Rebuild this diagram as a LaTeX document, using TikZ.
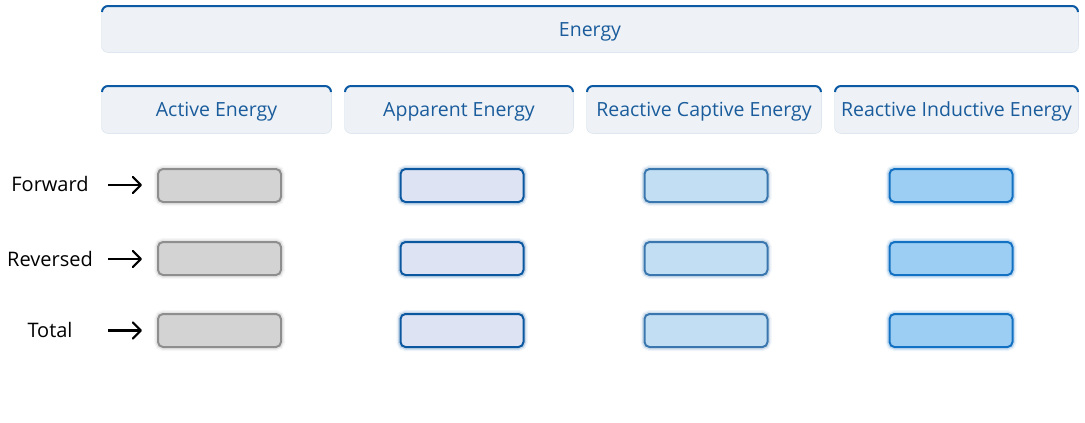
\documentclass[tikz,border=0pt]{standalone}
\usepackage{fontspec}
\setmainfont{Open Sans}
\usetikzlibrary{arrows.meta}
\usetikzlibrary{positioning}

\definecolor{headfill}{HTML}{EEF2F6}
\definecolor{headedge}{HTML}{DCE5EE}
\definecolor{headline}{HTML}{0B5AA3}
\definecolor{headtext}{HTML}{1A5C9C}
\definecolor{grayfill}{HTML}{D3D3D3}
\definecolor{grayline}{HTML}{8E8E8E}
\definecolor{appfill}{HTML}{DDE3F3}
\definecolor{appline}{HTML}{0C58A0}
\definecolor{capfill}{HTML}{C2DEF3}
\definecolor{capline}{HTML}{3A77AE}
\definecolor{indfill}{HTML}{9CCDF2}
\definecolor{indline}{HTML}{1371C3}

\begin{document}
\begin{tikzpicture}[
				x=1pt, y=-1pt,
				node distance=39.5pt,
				line width=2pt,
				arrow/.style={line width=2.2pt, -{Straight Barb[length=8pt, width=16pt, line cap=round, line join=round]}, shorten >=16pt},
				head/.style={fill=headfill, rounded corners=6pt, minimum height=46pt, inner sep=0pt, outer sep=0pt,
					text=headtext, font=\fontsize{19.5}{22}\selectfont, text height=16pt, text depth=2pt,
					preaction={draw=headedge, line width=1.5pt}},
				topline/.style={draw=headline, line width=2pt, rounded corners=6pt},
				rowlabel/.style={font=\fontsize{20}{24}\selectfont},
				cell/.style={draw=#1line, fill=#1fill, rounded corners=5pt, minimum width=123pt, minimum height=33pt, outer sep=0pt,
					preaction={draw=#1line, line width=8pt, draw opacity=0.08},
					preaction={draw=#1line, line width=5pt, draw opacity=0.18}},
			]
				\useasboundingbox (0,0) rectangle (1085,423);
				% headers
				\node (energy) [head, minimum width=976pt] at (590,29) {Energy};
				\node (act) [head, minimum width=229pt, minimum height=47pt] at (216.5,109.5) {Active Energy};
				\node (app) [head, minimum width=228pt, minimum height=47pt, right=14pt of act] {Apparent Energy};
				\node (cap) [head, minimum width=234pt, minimum height=47pt, right=14pt of app] {Reactive Captive Energy};
				\node (ind) [head, minimum width=243pt, minimum height=47pt, right=14pt of cap] {Reactive Inductive Energy};
				\draw[topline] ([yshift=-6pt]energy.north west) |- (energy.north) -| ([yshift=-6pt]energy.north east);
				\draw[topline] ([yshift=-6pt]act.north west) |- (act.north) -| ([yshift=-6pt]act.north east);
				\draw[topline] ([yshift=-6pt]app.north west) |- (app.north) -| ([yshift=-6pt]app.north east);
				\draw[topline] ([yshift=-6pt]cap.north west) |- (cap.north) -| ([yshift=-6pt]cap.north east);
				\draw[topline] ([yshift=-6pt]ind.north west) |- (ind.north) -| ([yshift=-6pt]ind.north east);
				
				% cells
				\node (fwdA) [cell=gray] at (219.5,185.5) {};
				\node (revA) [cell=gray, below=40pt of fwdA] {};
				\node (totA) [cell=gray, below=39pt of revA] {};
				\node (fwdB) [cell=app] at (462,185.5) {};
				\node (revB) [cell=app, below=40pt of fwdB] {};
				\node (totB) [cell=app, below=39pt of revB] {};
				\node (fwdC) [cell=cap] at (706,185.5) {};
				\node (revC) [cell=cap, below=40pt of fwdC] {};
				\node (totC) [cell=cap, below=39pt of revC] {};
				\node (fwdD) [cell=ind] at (951,185.5) {};
				\node (revD) [cell=ind, below=40pt of fwdD] {};
				\node (totD) [cell=ind, below=39pt of revD] {};
				
				% row labels
				\node (fwd) [rowlabel] at (50,184) {Forward};
				\node (rev) [rowlabel] at (50,259) {Reversed};
				\node (tot) [rowlabel] at (50,330) {Total};
				\coordinate (fwdtail) at (108,185);
				\coordinate (revtail) at (108,259);
				\coordinate (tottail) at (108,330.5);
				
				\draw[arrow] (fwdtail) -- (fwdtail -| fwdA.west);
				\draw[arrow] (revtail) -- (revtail -| revA.west);
				\draw[arrow] (tottail) -- (tottail -| totA.west);
			\end{tikzpicture}
\end{document}
